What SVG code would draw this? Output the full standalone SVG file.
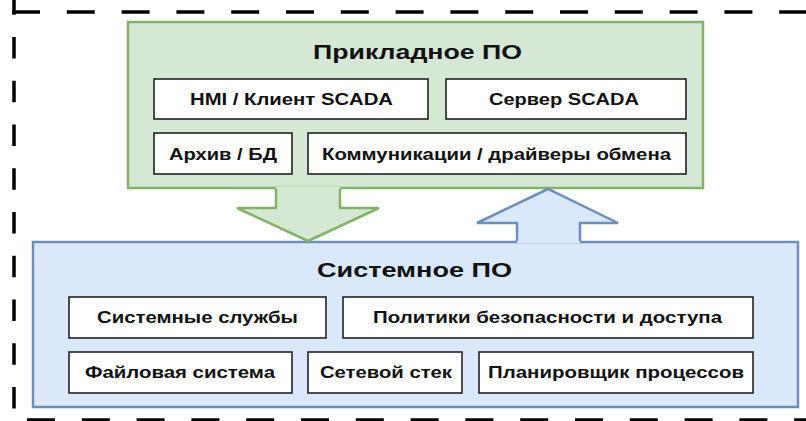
<svg xmlns="http://www.w3.org/2000/svg" width="806" height="421" viewBox="0 0 806 421">
<style>
.frame{fill:none;stroke:#000;stroke-width:3.5}
.green{fill:#d5e8d4;stroke:#82b366;stroke-width:2.5}
.blue{fill:#dae8fc;stroke:#6c8ebf;stroke-width:2.5}
.item{fill:#fff;stroke:#222;stroke-width:1.6}
.t{font-family:"Liberation Sans",Arial,sans-serif;font-weight:bold;fill:#111;text-anchor:middle}
.title{font-size:21px}
.lbl{font-size:16.5px}
</style>
<rect width="806" height="421" fill="#fff"/>
<g id="frame">
<line class="frame" x1="12" y1="12" x2="806" y2="12" stroke-dasharray="28 26.8"/>
<line class="frame" x1="14" y1="-6.75" x2="14" y2="421" stroke-dasharray="21.5 22.25"/>
<line class="frame" x1="27" y1="420" x2="806" y2="420" stroke-width="4" stroke-dasharray="28 26.8"/>
</g>
<g id="applied">
<rect class="green" x="128" y="22" width="575" height="166"/>
<text class="t title" x="417.5" y="59" textLength="209" lengthAdjust="spacingAndGlyphs">Прикладное ПО</text>
</g>
<g id="hmi">
<rect class="item" x="154" y="79" width="274" height="40"/>
<text class="t lbl" x="291.5" y="105" textLength="203" lengthAdjust="spacingAndGlyphs">HMI / Клиент SCADA</text>
</g>
<g id="server">
<rect class="item" x="446" y="79" width="240" height="40"/>
<text class="t lbl" x="564" y="105" textLength="150" lengthAdjust="spacingAndGlyphs">Сервер SCADA</text>
</g>
<g id="archive">
<rect class="item" x="154" y="133" width="138" height="41"/>
<text class="t lbl" x="223" y="160" textLength="108" lengthAdjust="spacingAndGlyphs">Архив / БД</text>
</g>
<g id="comm">
<rect class="item" x="308" y="133" width="378" height="41"/>
<text class="t lbl" x="496.5" y="160" textLength="349" lengthAdjust="spacingAndGlyphs">Коммуникации / драйверы обмена</text>
</g>
<g id="system">
<rect class="blue" x="33" y="242" width="765" height="165"/>
<text class="t title" x="414.5" y="277" textLength="195" lengthAdjust="spacingAndGlyphs">Системное ПО</text>
</g>
<g id="services">
<rect class="item" x="69" y="297" width="257" height="41"/>
<text class="t lbl" x="197.5" y="323" textLength="201" lengthAdjust="spacingAndGlyphs">Системные службы</text>
</g>
<g id="policies">
<rect class="item" x="343" y="297" width="410" height="41"/>
<text class="t lbl" x="547.5" y="323" textLength="349" lengthAdjust="spacingAndGlyphs">Политики безопасности и доступа</text>
</g>
<g id="fs">
<rect class="item" x="69" y="352" width="223" height="41"/>
<text class="t lbl" x="180" y="378" textLength="190" lengthAdjust="spacingAndGlyphs">Файловая система</text>
</g>
<g id="net">
<rect class="item" x="308" y="352" width="154" height="41"/>
<text class="t lbl" x="386" y="378" textLength="132" lengthAdjust="spacingAndGlyphs">Сетевой стек</text>
</g>
<g id="sched">
<rect class="item" x="479" y="352" width="274" height="41"/>
<text class="t lbl" x="616" y="378" textLength="256" lengthAdjust="spacingAndGlyphs">Планировщик процессов</text>
</g>
<g id="connectors">
<path d="M276,187 L340,187 L340,208 L379,208 L308,241 L237,208 L276,208 Z" fill="#d5e8d4" stroke="none"/>
<path d="M276,189 L276,208 L237,208 L308,241 L379,208 L340,208 L340,189" fill="none" stroke="#82b366" stroke-width="2.5"/>
<path d="M517,243 L517,223 L477,223 L548,189 L618,223 L580,223 L580,243 Z" fill="#dae8fc" stroke="none"/>
<path d="M517,241 L517,223 L477,223 L548,189 L618,223 L580,223 L580,241" fill="none" stroke="#6c8ebf" stroke-width="2.5"/>
</g>
</svg>
